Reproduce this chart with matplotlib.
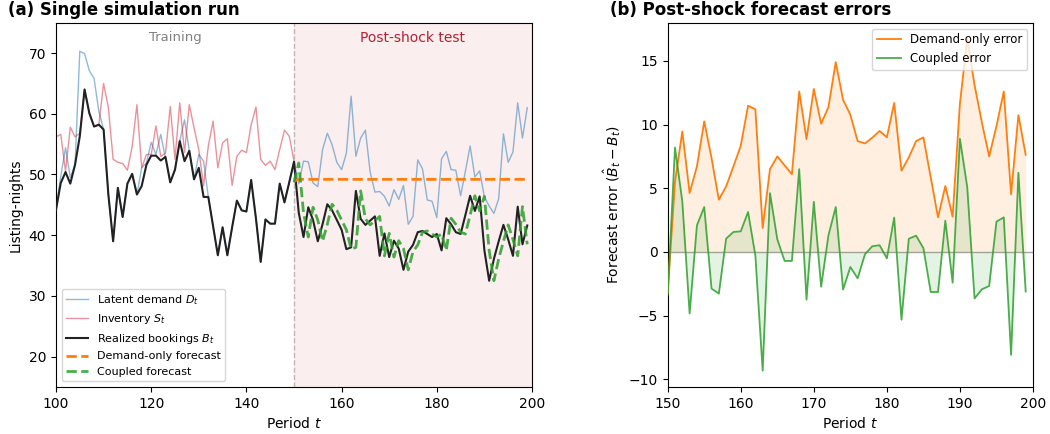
import matplotlib
matplotlib.use("Agg")
import matplotlib.pyplot as plt

# ---------------- data ----------------
periods_all = list(range(100, 200))
periods_train = list(range(100, 151))
periods_test = list(range(150, 200))

latent_demand = [
    44.2, 49.7, 54.4, 49.5, 51.6, 70.3, 69.9, 67.1, 65.8, 60.4,
    57.4, 46.7, 39.0, 47.8, 43.0, 48.5, 50.1, 46.7, 51.1, 51.9,
    55.3, 53.3, 56.6, 52.7, 48.7, 50.8, 55.5, 59.0, 53.9, 49.2,
    53.3, 52.2, 46.3, 41.5, 36.7, 41.3, 36.7, 41.3, 45.7, 44.1,
    43.9, 49.1, 42.8, 35.6, 42.6, 41.9, 41.9, 48.5, 45.4, 48.7,
    52.1, 48.5, 52.2, 52.1, 48.6, 48.0, 54.1, 56.8, 54.9, 52.0,
    50.8, 53.5, 62.9, 53.0, 56.0, 57.3, 50.4, 47.1, 47.2, 46.4,
    44.8, 47.5, 45.9, 48.2, 41.8, 43.1, 52.4, 50.9, 45.8, 45.6,
    42.9, 52.6, 53.8, 50.8, 50.7, 46.5, 50.5, 54.7, 49.6, 50.6,
    46.3, 44.8, 43.6, 46.0, 56.7, 52.0, 53.7, 61.8, 56.0, 61.0,
]

inventory = [
    56.2, 56.6, 50.5, 57.8, 56.2, 56.8, 64.0, 60.1, 57.9, 58.2,
    65.0, 61.0, 52.5, 52.0, 51.8, 50.7, 54.6, 61.5, 51.1, 53.3,
    53.3, 58.0, 53.0, 53.5, 61.2, 52.5, 61.8, 53.6, 61.5, 57.7,
    54.1, 48.1, 54.7, 58.8, 51.1, 55.2, 55.9, 48.2, 53.0, 54.0,
    53.6, 58.2, 61.1, 52.5, 51.5, 52.2, 50.8, 54.1, 57.3, 56.3,
    52.2,
]

bookings = [
    44.2, 48.6, 50.4, 48.5, 51.6, 56.3, 64.0, 60.1, 57.9, 58.2,
    57.4, 46.7, 39.0, 47.8, 43.0, 48.5, 50.1, 46.7, 48.1, 51.6,
    53.1, 53.1, 52.3, 52.9, 48.7, 50.8, 55.5, 52.2, 53.9, 49.2,
    51.1, 46.3, 46.3, 41.5, 36.7, 41.3, 36.7, 41.3, 45.7, 44.1,
    43.9, 49.1, 42.8, 35.6, 42.6, 41.9, 41.9, 48.5, 45.4, 48.7,
    52.1, 43.7, 39.7, 44.6, 42.5, 39.0, 41.8, 45.1, 44.1, 42.5,
    40.9, 37.7, 38.0, 47.3, 42.7, 41.7, 42.4, 43.1, 36.6, 40.3,
    36.4, 39.1, 37.8, 34.3, 37.3, 38.4, 40.5, 40.7, 40.2, 39.7,
    40.2, 37.5, 42.8, 41.8, 40.5, 40.2, 43.3, 46.5, 44.0, 46.4,
    37.5, 32.5, 36.1, 39.0, 41.7, 39.3, 36.6, 44.7, 38.5, 41.6,
]

demand_only_forecast = [
    48.9, 49.2, 49.2, 49.2, 49.2, 49.2, 49.2, 49.2, 49.2, 49.2,
    49.2, 49.2, 49.2, 49.2, 49.2, 49.2, 49.2, 49.2, 49.2, 49.2,
    49.2, 49.2, 49.2, 49.2, 49.2, 49.2, 49.2, 49.2, 49.2, 49.2,
    49.2, 49.2, 49.2, 49.2, 49.2, 49.2, 49.2, 49.2, 49.2, 49.2,
    49.2, 49.2, 49.2, 49.2, 49.2, 49.2, 49.2, 49.2, 49.2, 49.2,
]

coupled_forecast = [
    48.7, 51.9, 43.7, 39.7, 44.6, 42.5, 39.0, 41.8, 45.1, 44.1,
    42.5, 40.9, 37.7, 38.0, 47.3, 42.7, 41.7, 42.4, 43.1, 36.6,
    40.3, 36.4, 39.1, 37.8, 34.3, 37.3, 38.4, 40.5, 40.7, 40.2,
    39.7, 40.2, 37.5, 42.8, 41.8, 40.5, 40.2, 43.3, 46.5, 44.0,
    46.4, 37.5, 32.5, 36.1, 39.0, 41.7, 39.3, 36.6, 44.7, 38.5,
]

demand_only_error = [
    -3.2, 5.5, 9.46, 4.63, 6.72, 10.25, 7.37, 4.1, 5.15, 6.72,
    8.34, 11.48, 11.2, 1.88, 6.5, 7.5, 6.8, 6.1, 12.6, 8.86,
    12.8, 10.07, 11.37, 14.9, 11.95, 10.77, 8.7, 8.52, 8.97, 9.5,
    9.0, 11.7, 6.38, 7.42, 8.7, 9.0, 5.86, 2.72, 5.18, 2.77,
    11.66, 16.75, 13.1, 10.17, 7.5, 9.88, 12.6, 4.52, 10.74, 7.63,
]

coupled_error = [
    -3.4, 8.2, 3.96, -4.83, 2.09, 3.53, -2.88, -3.27, 1.05, 1.57,
    1.62, 3.14, -0.28, -9.32, 4.62, 1.0, -0.7, -0.7, 6.5, -3.74,
    3.94, -2.73, 1.3, 3.53, -2.95, -1.18, -2.07, -0.18, 0.45, 0.53,
    -0.5, 2.7, -5.32, 1.04, 1.28, 0.3, -3.14, -3.14, 2.46, -2.41,
    8.89, 5.09, -3.65, -2.93, -2.67, 2.38, 2.72, -8.08, 6.22, -3.11,
]

# ---------------- figure ----------------
plt.rcParams['font.family'] = ['DejaVu Sans']
W, H = 1050, 434
fig = plt.figure(figsize=(W / 100, H / 100), dpi=100)

def px_axes(x0, x1, y_top, y_bot):
    return fig.add_axes([x0 / W, 1 - y_bot / H, (x1 - x0) / W, (y_bot - y_top) / H])

ax1 = px_axes(56, 532, 22.7, 387)
ax2 = px_axes(667.7, 1033, 22.7, 387)

c_blue = '#1f77b4'
c_pink = '#d62738'
c_orange = '#ff7f0e'
c_green = '#2ca02c'

# ----- panel (a) -----
ax1.axvspan(150, 200, color=c_pink, alpha=0.08, lw=0, zorder=0)
ax1.axvline(150, color='gray', ls='--', lw=1.0, alpha=0.5, zorder=1)
ax1.plot(periods_all, latent_demand, color=c_blue, alpha=0.5, lw=1.0,
         label='Latent demand $D_t$', zorder=2)
ax1.plot(periods_train, inventory, color=c_pink, alpha=0.5, lw=1.0,
         label='Inventory $S_t$', zorder=2)
ax1.plot(periods_all, bookings, color='#222222', lw=1.5,
         label='Realized bookings $B_t$', zorder=3)
ax1.plot(periods_test, demand_only_forecast, color=c_orange, ls='--', lw=2.0,
         label='Demand-only forecast', zorder=4)
ax1.plot(periods_test, coupled_forecast, color=c_green, ls='--', lw=2.0,
         alpha=0.85, label='Coupled forecast', zorder=4)

ax1.text(125, 72.5, 'Training', ha='center', va='center', color='gray', fontsize=9.5)
ax1.text(175, 72.5, 'Post-shock test', ha='center', va='center', color='#b22234',
         fontsize=10)

ax1.set_xlim(100, 200)
ax1.set_ylim(15, 75)
ax1.set_xticks([100, 120, 140, 160, 180, 200])
ax1.set_yticks([20, 30, 40, 50, 60, 70])
ax1.set_xlabel('Period $t$', fontsize=10)
ax1.set_ylabel('Listing-nights', fontsize=10)
ax1.legend(loc='lower left', fontsize=8, framealpha=0.8)

# ----- panel (b) -----
ax2.axhline(0, color='gray', lw=1.0, alpha=0.7, zorder=1)
ax2.fill_between(periods_test, 0, demand_only_error, color=c_orange, alpha=0.12,
                 lw=0, zorder=1)
ax2.fill_between(periods_test, 0, coupled_error, color=c_green, alpha=0.12,
                 lw=0, zorder=1)
ax2.plot(periods_test, demand_only_error, color=c_orange, lw=1.3,
         label='Demand-only error', zorder=3)
ax2.plot(periods_test, coupled_error, color=c_green, lw=1.3, alpha=0.85,
         label='Coupled error', zorder=3)

ax2.set_xlim(150, 200)
ax2.set_ylim(-10.6, 18.0)
ax2.set_xticks([150, 160, 170, 180, 190, 200])
ax2.set_yticks([-10, -5, 0, 5, 10, 15])
ax2.set_xlabel('Period $t$', fontsize=10)
ax2.set_ylabel(r'Forecast error ($\hat{B}_t - B_t$)', fontsize=10)
ax2.legend(loc='upper right', fontsize=8.5, framealpha=0.8)

for ax in (ax1, ax2):
    ax.tick_params(labelsize=10)

fig.text(8 / W, 1 - 10 / H, '(a) Single simulation run', ha='left', va='center',
         fontsize=12, fontweight='bold')
fig.text(610 / W, 1 - 10 / H, '(b) Post-shock forecast errors', ha='left',
         va='center', fontsize=12, fontweight='bold')

fig.savefig('out.png', dpi=100)
